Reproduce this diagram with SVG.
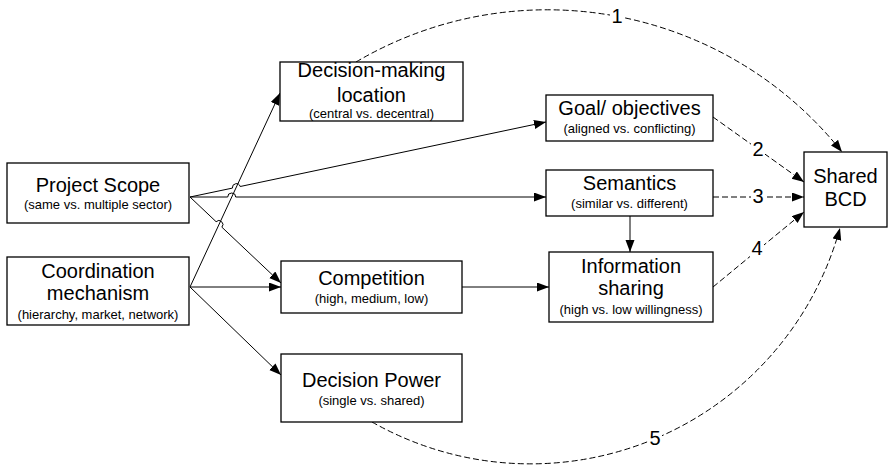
<svg xmlns="http://www.w3.org/2000/svg" width="889" height="467" viewBox="0 0 889 467">
  <style>
    .box { fill: #fff; stroke: #000; stroke-width: 1.3; }
    .t { font-family: "Liberation Sans", Arial, sans-serif; font-size: 20px; text-anchor: middle; fill: #000; }
    .s { font-family: "Liberation Sans", Arial, sans-serif; font-size: 13px; text-anchor: middle; fill: #000; }
    .n { font-family: "Liberation Sans", Arial, sans-serif; font-size: 20px; text-anchor: middle; fill: #000; }
    .solid { fill: none; stroke: #000; stroke-width: 1; }
    .dash { fill: none; stroke: #000; stroke-width: 1; stroke-dasharray: 6 3; }
  </style>
  <defs>
    <marker id="arrow" markerUnits="userSpaceOnUse" markerWidth="13" markerHeight="10" refX="12" refY="4.5" orient="auto">
      <path d="M0,0 L12,4.5 L0,9 z" fill="#000"/>
    </marker>
  </defs>
  <rect width="889" height="467" fill="#fff"/>

  <g id="connectors">
    <!-- solid influence arrows -->
    <path class="solid" d="M190,197 L232.4,188.1 A4,4 0 0 1 240.2,186.5 L546,122" marker-end="url(#arrow)"/>
    <path class="solid" d="M190,197 L227.7,197 A4,4 0 0 1 235.7,197 L546,197" marker-end="url(#arrow)"/>
    <path class="solid" d="M190,197 L216.1,221.7 A4,4 0 0 1 221.9,227.2 L281,283" marker-end="url(#arrow)"/>
    <path class="solid" d="M190,287 L280,93" marker-end="url(#arrow)"/>
    <path class="solid" d="M190,287 L281,287" marker-end="url(#arrow)"/>
    <path class="solid" d="M190,287 L281,375" marker-end="url(#arrow)"/>
    <path class="solid" d="M462,287 L549,287" marker-end="url(#arrow)"/>
    <path class="solid" d="M630,216 L630,252" marker-end="url(#arrow)"/>

    <!-- dashed paths to Shared BCD -->
    <path class="dash" d="M356,62 A376.5,376.5 0 0 1 842,152" marker-end="url(#arrow)"/>
    <path class="dash" d="M713,117 L804,182" marker-end="url(#arrow)"/>
    <path class="dash" d="M713,197 L804,197" marker-end="url(#arrow)"/>
    <path class="dash" d="M713,287 L804,212" marker-end="url(#arrow)"/>
    <path class="dash" d="M372,422 A321,321 0 0 0 840,228" marker-end="url(#arrow)"/>

    <!-- path numbers -->
    <rect x="610" y="8" width="14" height="17" fill="#fff"/>
    <text class="n" x="617" y="23">1</text>
    <rect x="751" y="141" width="14" height="17" fill="#fff"/>
    <text class="n" x="758" y="156">2</text>
    <rect x="751" y="188" width="14" height="17" fill="#fff"/>
    <text class="n" x="758" y="203">3</text>
    <rect x="750" y="240" width="14" height="17" fill="#fff"/>
    <text class="n" x="757" y="255">4</text>
    <rect x="648" y="430" width="14" height="17" fill="#fff"/>
    <text class="n" x="655" y="445">5</text>
  </g>

  <g id="project-scope">
    <rect class="box" x="7" y="163" width="182" height="60"/>
    <text class="t" x="98" y="192">Project Scope</text>
    <text class="s" x="98" y="209">(same vs. multiple sector)</text>
  </g>

  <g id="coordination-mechanism">
    <rect class="box" x="7" y="257" width="182" height="68"/>
    <text class="t" x="98" y="278">Coordination</text>
    <text class="t" x="98" y="300">mechanism</text>
    <text class="s" x="98" y="319">(hierarchy, market, network)</text>
  </g>

  <g id="decision-making-location">
    <rect class="box" x="280" y="62" width="183" height="59"/>
    <text class="t" x="371.5" y="77">Decision-making</text>
    <text class="t" x="371.5" y="102">location</text>
    <text class="s" x="371.5" y="118">(central vs. decentral)</text>
  </g>

  <g id="competition">
    <rect class="box" x="281" y="261" width="181" height="52"/>
    <text class="t" x="371.5" y="285">Competition</text>
    <text class="s" x="371.5" y="303">(high, medium, low)</text>
  </g>

  <g id="decision-power">
    <rect class="box" x="281" y="354" width="181" height="68"/>
    <text class="t" x="371.5" y="387">Decision Power</text>
    <text class="s" x="371.5" y="405">(single vs. shared)</text>
  </g>

  <g id="goal-objectives">
    <rect class="box" x="546" y="95" width="167" height="46"/>
    <text class="t" x="629.5" y="115">Goal/ objectives</text>
    <text class="s" x="629.5" y="133">(aligned vs. conflicting)</text>
  </g>

  <g id="semantics">
    <rect class="box" x="546" y="170" width="167" height="46"/>
    <text class="t" x="629.5" y="190">Semantics</text>
    <text class="s" x="629.5" y="208">(similar vs. different)</text>
  </g>

  <g id="information-sharing">
    <rect class="box" x="549" y="252" width="164" height="70"/>
    <text class="t" x="631" y="273">Information</text>
    <text class="t" x="631" y="295">sharing</text>
    <text class="s" x="631" y="314">(high vs. low willingness)</text>
  </g>

  <g id="shared-bcd">
    <rect class="box" x="804" y="152" width="83" height="75"/>
    <text class="t" x="845.5" y="183">Shared</text>
    <text class="t" x="845.5" y="206">BCD</text>
  </g>
</svg>
